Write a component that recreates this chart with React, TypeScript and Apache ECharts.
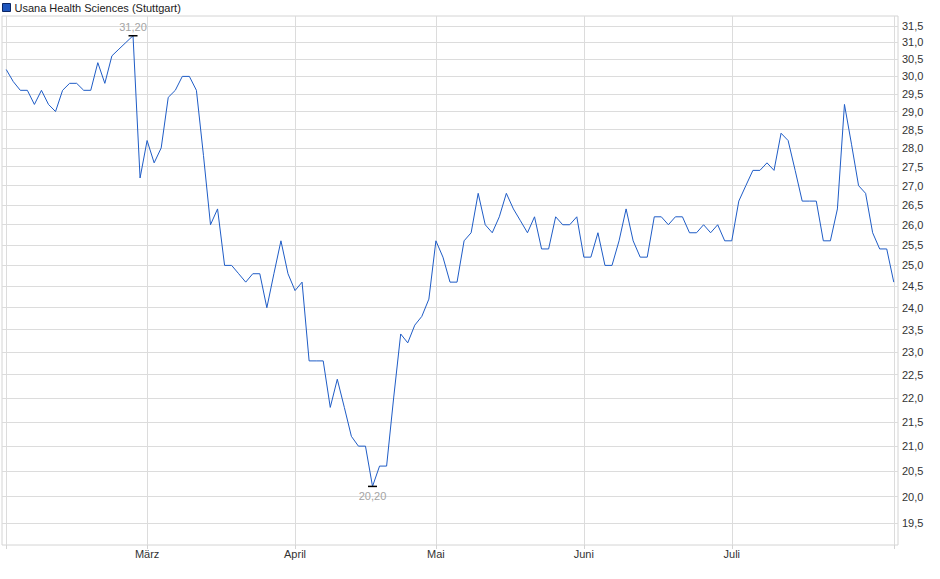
import { useEffect, useRef } from 'react'
import * as echarts from 'echarts'

const seriesName = 'Usana Health Sciences (Stuttgart)'

// Schlusskurse (ein Wert pro Handelstag)
const prices = [
  30.2, 29.85, 29.6, 29.6, 29.2, 29.6, 29.2, 29.0, 29.6, 29.8,
  29.8, 29.6, 29.6, 30.4, 29.8, 30.6, 30.8, 31.0, 31.2, 27.2,
  28.2, 27.6, 28.0, 29.4, 29.6, 30.0, 30.0, 29.6, 27.8, 26.0,
  26.4, 25.0, 25.0, 24.8, 24.6, 24.8, 24.8, 24.0, 24.8, 25.6,
  24.8, 24.4, 24.6, 22.8, 22.8, 22.8, 21.8, 22.4, 21.8, 21.2,
  21.0, 21.0, 20.2, 20.6, 20.6, 22.0, 23.4, 23.2, 23.6, 23.8,
  24.2, 25.6, 25.2, 24.6, 24.6, 25.6, 25.8, 26.8, 26.0, 25.8,
  26.2, 26.8, 26.4, 26.1, 25.8, 26.2, 25.4, 25.4, 26.2, 26.0,
  26.0, 26.2, 25.2, 25.2, 25.8, 25.0, 25.0, 25.6, 26.4, 25.6,
  25.2, 25.2, 26.2, 26.2, 26.0, 26.2, 26.2, 25.8, 25.8, 26.0,
  25.8, 26.0, 25.6, 25.6, 26.6, 27.0, 27.4, 27.4, 27.6, 27.4,
  28.4, 28.2, 27.4, 26.6, 26.6, 26.6, 25.6, 25.6, 26.4, 29.2,
  28.1, 27.0, 26.8, 25.8, 25.4, 25.4, 24.6,
]

const monthStarts = [20, 41, 61, 82, 103]
const monthLabels = ['März', 'April', 'Mai', 'Juni', 'Juli']

const yTicks = [
  19.5, 20.0, 20.5, 21.0, 21.5, 22.0, 22.5, 23.0, 23.5, 24.0, 24.5, 25.0, 25.5,
  26.0, 26.5, 27.0, 27.5, 28.0, 28.5, 29.0, 29.5, 30.0, 30.5, 31.0, 31.5,
]

const font = 'Liberation Sans, Arial, sans-serif'
const deNum = (v: number, d: number) => v.toFixed(d).replace('.', ',')

export default function App() {
  const ref = useRef<HTMLDivElement | null>(null)

  useEffect(() => {
    if (!ref.current) return
    document.body.style.margin = '0'
    const chart = echarts.init(ref.current, undefined, { renderer: 'svg' })
    const last = prices.length - 1
    const xTicks = [0, ...monthStarts, last]

    chart.setOption({
      animation: false,
      textStyle: { fontFamily: font },
      legend: {
        left: 0,
        top: 0,
        padding: [2, 2],
        itemWidth: 8,
        itemHeight: 8,
        data: [{ name: seriesName, icon: 'rect' }],
        itemStyle: { color: '#1f56bd', borderColor: '#0c2664', borderWidth: 1 },
        textStyle: { fontSize: 11, color: '#222', fontFamily: font, padding: [0, 0, 0, -1] },
      },
      grid: {
        left: 2,
        right: 42,
        top: 16,
        bottom: 34,
        show: true,
        borderColor: '#d4d4d4',
        borderWidth: 1,
      },
      xAxis: {
        type: 'value',
        min: -0.6,
        max: last + 0.6,
        axisLine: { show: false },
        axisTick: {
          show: true,
          length: 4,
          customValues: xTicks,
          lineStyle: { color: '#d4d4d4' },
        },
        axisLabel: {
          customValues: monthStarts,
          formatter: (v: number) => monthLabels[monthStarts.indexOf(Math.round(v))] ?? '',
          fontSize: 11,
          color: '#333',
          margin: 3,
          fontFamily: font,
        },
        splitLine: { show: true, lineStyle: { color: '#dcdcdc', width: 1 } },
      },
      yAxis: {
        type: 'value',
        position: 'right',
        min: Math.log(19.09),
        max: Math.log(31.8),
        axisLine: { show: false },
        axisTick: { show: false, customValues: yTicks.map(Math.log) },
        axisLabel: {
          customValues: yTicks.map(Math.log),
          formatter: (v: number) => deNum(Math.exp(v), 1),
          fontSize: 11,
          color: '#333',
          margin: 4,
          fontFamily: font,
        },
        splitLine: { show: true, lineStyle: { color: '#dcdcdc', width: 1 } },
      },
      series: [
        {
          name: seriesName,
          type: 'line',
          data: prices.map((v, i) => [i, Math.log(v)]),
          showSymbol: false,
          symbol: 'none',
          lineStyle: { color: '#1f5cc6', width: 1 },
          itemStyle: { color: '#1f56bd' },
          markPoint: {
            symbol: 'rect',
            symbolSize: [9, 1.5],
            itemStyle: { color: '#000' },
            label: {
              fontSize: 11,
              color: '#a4a4a4',
              fontFamily: font,
              formatter: (p: any) => deNum(Math.exp(p.value), 2),
            },
            data: [
              { type: 'max', valueDim: 'y', label: { position: 'top', distance: 2 } },
              { type: 'min', valueDim: 'y', label: { position: 'bottom', distance: 3 } },
            ],
          },
        },
      ],
    })

    return () => {
      chart.dispose()
    }
  }, [])

  return <div ref={ref} style={{ width: 940, height: 579 }} />
}
